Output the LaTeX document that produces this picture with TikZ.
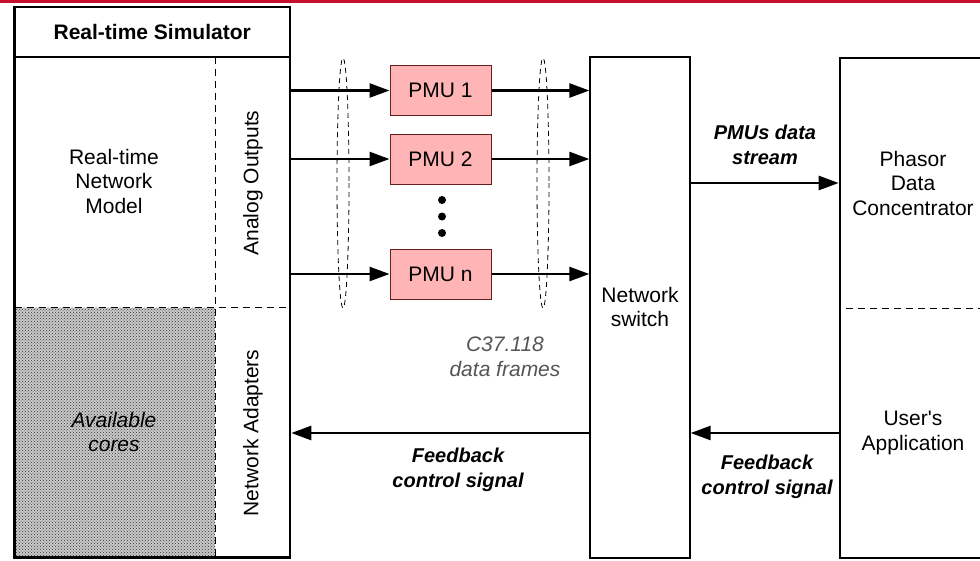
\documentclass[tikz,border=0pt]{standalone}
\usepackage{fontspec}
\setmainfont{Liberation Sans}[Ligatures=TeXOff]
\usepackage{xcolor}
\usepackage{tikz}
\usetikzlibrary{arrows.meta,positioning,patterns}
\definecolor{pmuFill}{RGB}{255,181,181}
\definecolor{pmuEdge}{RGB}{105,30,30}
\definecolor{topRed}{RGB}{200,16,46}
\definecolor{noteGray}{RGB}{85,85,85}
\tikzset{
    lbl/.style={font=\fontsize{21}{24.5}\selectfont, align=center, inner sep=0pt},
    emlbl/.style={lbl, font=\fontsize{20}{24.5}\selectfont\bfseries\itshape},
    bigbox/.style={draw, line width=2.6pt, inner sep=0pt},
    pmubox/.style={draw=pmuEdge, fill=pmuFill, line width=1pt, minimum width=101pt, minimum height=50pt, font=\fontsize{21}{24.5}\selectfont},
    flow/.style={line width=2.6pt, -{Triangle[length=20pt,width=14pt]}},
    sepline/.style={line width=1pt, dash pattern=on 7pt off 5pt},
    bundle/.style={line width=0.8pt, dash pattern=on 5pt off 4pt}
}

\begin{document}
\begin{tikzpicture}[x=1pt,y=-1pt]
    \useasboundingbox (0,0) rectangle (980,560);
    \fill[topRed] (0,0) rectangle (980,2.5);

    % simulator with its available cores
    \fill[gray!42] (14.5,307.7) rectangle (215,557.5);
    \fill[pattern=crosshatch dots, pattern color=black!80] (14.5,307.7) rectangle (215,557.5);
    \draw[sepline] (215,57) -- (215,557.5);
    \draw[sepline] (14.5,307.7) -- (290,307.7);
    \node[bigbox, minimum width=275.5pt, minimum height=550.5pt] (sim) at (152.25,282.25) {};
    \draw[line width=2.6pt] (sim.west |- 0,57) -- (sim.east |- 0,57);
    \node[lbl, font=\fontsize{21}{24.5}\selectfont\bfseries] (simtitle) at (152.25,32) {Real-time Simulator};
    \node[lbl] (model) at (114,181) {Real-time\\Network\\Model};
    \node[lbl, font=\fontsize{21}{24.5}\selectfont\itshape] (cores) at (114,432) {Available\\cores};
    \node[lbl, rotate=90] (analog) at (253,183) {Analog Outputs};
    \node[lbl, rotate=90] (adapters) at (253,433) {Network Adapters};

    % PMUs
    \node[pmubox] (pmu1) at (440.5,90.5) {PMU 1};
    \node[pmubox] (pmu2) at (440.5,159) {PMU 2};
    \node[pmubox] (pmun) at (440.5,274) {PMU n};
    \foreach \y in {200,216.5,233}
        \fill (442,\y) circle (4);
    \draw[bundle] (343,183) ellipse [x radius=6, y radius=125];
    \draw[bundle] (543,183) ellipse [x radius=6, y radius=125];
    \node[lbl, font=\fontsize{21}{24.5}\selectfont\itshape, text=noteGray] (frames) at (505,357) {C37.118\\data frames};

    % switch and concentrator
    \node[draw, line width=1.3pt, minimum width=100pt, minimum height=501pt] (sw) at (640,307.5) {};
    \node[lbl] (swtext) at (640,307) {Network\\switch};
    \begin{scope}
        \clip (0,0) rectangle (980,560);
        \node[bigbox, minimum width=170pt, minimum height=500pt] (pdc) at (925,308) {};
    \end{scope}
    \draw[sepline] (846,308) -- (980,308);
    \node[lbl] (pdctext) at (913,183) {Phasor\\Data\\Concentrator};
    \node[lbl] (app) at (913,433) {User's\\Application};

    % data path
    \foreach \p in {pmu1,pmu2,pmun} {
        \draw[flow] (sim.east |- \p.west) -- (\p.west);
        \draw[flow] (\p.east) -- (sw.west |- \p.east);
    }
    \draw[flow] (sw.east |- 0,183) -- (pdc.west |- 0,183);
    \node[emlbl] (stream) at (765,145) {PMUs data\\stream};

    % feedback path
    \draw[flow] (pdc.west |- 0,433) -- (sw.east |- 0,433);
    \draw[flow] (sw.west |- 0,433) -- (sim.east |- 0,433);
    \node[emlbl] (fbright) at (767,477) {Feedback\\control signal};
    \node[emlbl] (fbleft) at (458,470) {Feedback\\control signal};
\end{tikzpicture}
\end{document}
